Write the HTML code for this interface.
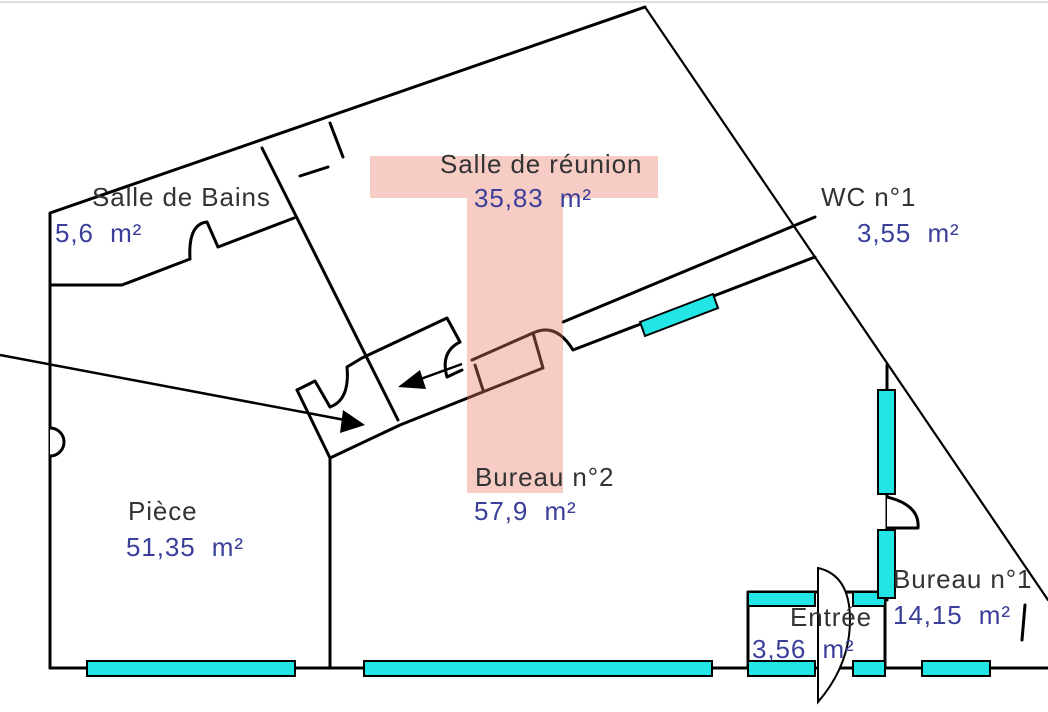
<!DOCTYPE html>
<html><head><meta charset="utf-8"><style>
html,body{margin:0;padding:0;background:#fff;width:1048px;height:712px;overflow:hidden}
svg{display:block}
text{font-family:"Liberation Sans",Arial,sans-serif;font-size:26px;letter-spacing:0.9px;white-space:pre}
.n{fill:#333}
.b{fill:#3a3f9a}
</style></head><body>
<svg width="1048" height="712" viewBox="0 0 1048 712" xmlns="http://www.w3.org/2000/svg">
<line x1="0" y1="2" x2="1048" y2="2" stroke="#ddd" stroke-width="2"/>
<g stroke="#000" stroke-width="3" fill="none" stroke-linecap="round" stroke-linejoin="round">
<polyline points="50,668 50,213 645,7"/>
<line x1="645" y1="7" x2="1048" y2="600" stroke-width="2.2"/>
<line x1="50" y1="668" x2="1048" y2="668"/>
<path d="M50,428 A14,14 0 0 1 50,456" fill="#fff"/>
<polyline points="52,285 122,285 190,259"/>
<path d="M190,259 Q188,224 207,222 L218,247 L294,218"/>
<line x1="262" y1="148" x2="398" y2="420"/>
<line x1="330" y1="123" x2="343" y2="157"/>
<line x1="300" y1="176" x2="328" y2="167"/>
<polyline points="472,360 533,333"/>
<line x1="563" y1="322" x2="815" y2="217"/>
<path d="M533,333 Q556,322 573,350 L815,257"/>
<polyline points="330,458 400,425 543,368 533,333"/>
<polyline points="475,365 483,390"/>
<polyline points="362,358 447,318 460,342"/>
<path d="M460,342 Q440,352 447,377 L462,370"/>
<polyline points="297,390 330,458"/>
<polyline points="297,390 315,381 330,407"/>
<path d="M330,407 Q350,400 347,367 L362,358"/>
<line x1="330" y1="458" x2="330" y2="668"/>
<line x1="887" y1="365" x2="887" y2="600"/>
<path d="M887,497 Q920,505 918,528 L887,528" fill="#fff"/>
<line x1="1025" y1="605" x2="1022" y2="640"/>
<rect x="748" y="592" width="137" height="76"/>
</g>
<g stroke="#000" stroke-width="2.5">
<line x1="0" y1="355" x2="345" y2="420"/>
<line x1="462" y1="364" x2="415" y2="381"/>
</g>
<polygon points="365,425 340,433 343,410" fill="#000"/>
<polygon points="398,387 420,370 426,389" fill="#000"/>
<g fill="#22e6e6" stroke="#000" stroke-width="2">
<rect x="87" y="661" width="208" height="15"/>
<rect x="364" y="661" width="348" height="15"/>
<rect x="922" y="661" width="68" height="15"/>
<rect x="748" y="661" width="67" height="15"/>
<rect x="853" y="661" width="32" height="15"/>
<rect x="748" y="592" width="67" height="14"/>
<rect x="853" y="592" width="32" height="14"/>
<rect x="878" y="390" width="17" height="104"/>
<rect x="878" y="530" width="17" height="68"/>
<polygon points="640,322 713,294 718,308 645,336"/>
</g>
<path d="M818,568 Q850,575 850,620 Q850,665 818,702 L818,568 Z" fill="#fff" stroke="#000" stroke-width="2"/>
<path d="M370,156 L658,156 L658,198 L563,198 L563,493 L467,493 L467,198 L370,198 Z" fill="rgba(232,120,100,0.38)"/>
<text class="n" x="440" y="173">Salle de réunion</text>
<text class="b" x="474" y="207">35,83  m²</text>
<text class="n" x="92" y="206">Salle de Bains</text>
<text class="b" x="55" y="242">5,6  m²</text>
<text class="n" x="821" y="206">WC n°1</text>
<text class="b" x="857" y="242">3,55  m²</text>
<text class="n" x="475" y="486">Bureau n°2</text>
<text class="b" x="474" y="520">57,9  m²</text>
<text class="n" x="128" y="520">Pièce</text>
<text class="b" x="126" y="556">51,35  m²</text>
<text class="n" x="893" y="588">Bureau n°1</text>
<text class="b" x="893" y="624">14,15  m²</text>
<text class="n" x="790" y="626">Entrée</text>
<text class="b" x="752" y="658">3,56  m²</text>
</svg>
</body></html>
